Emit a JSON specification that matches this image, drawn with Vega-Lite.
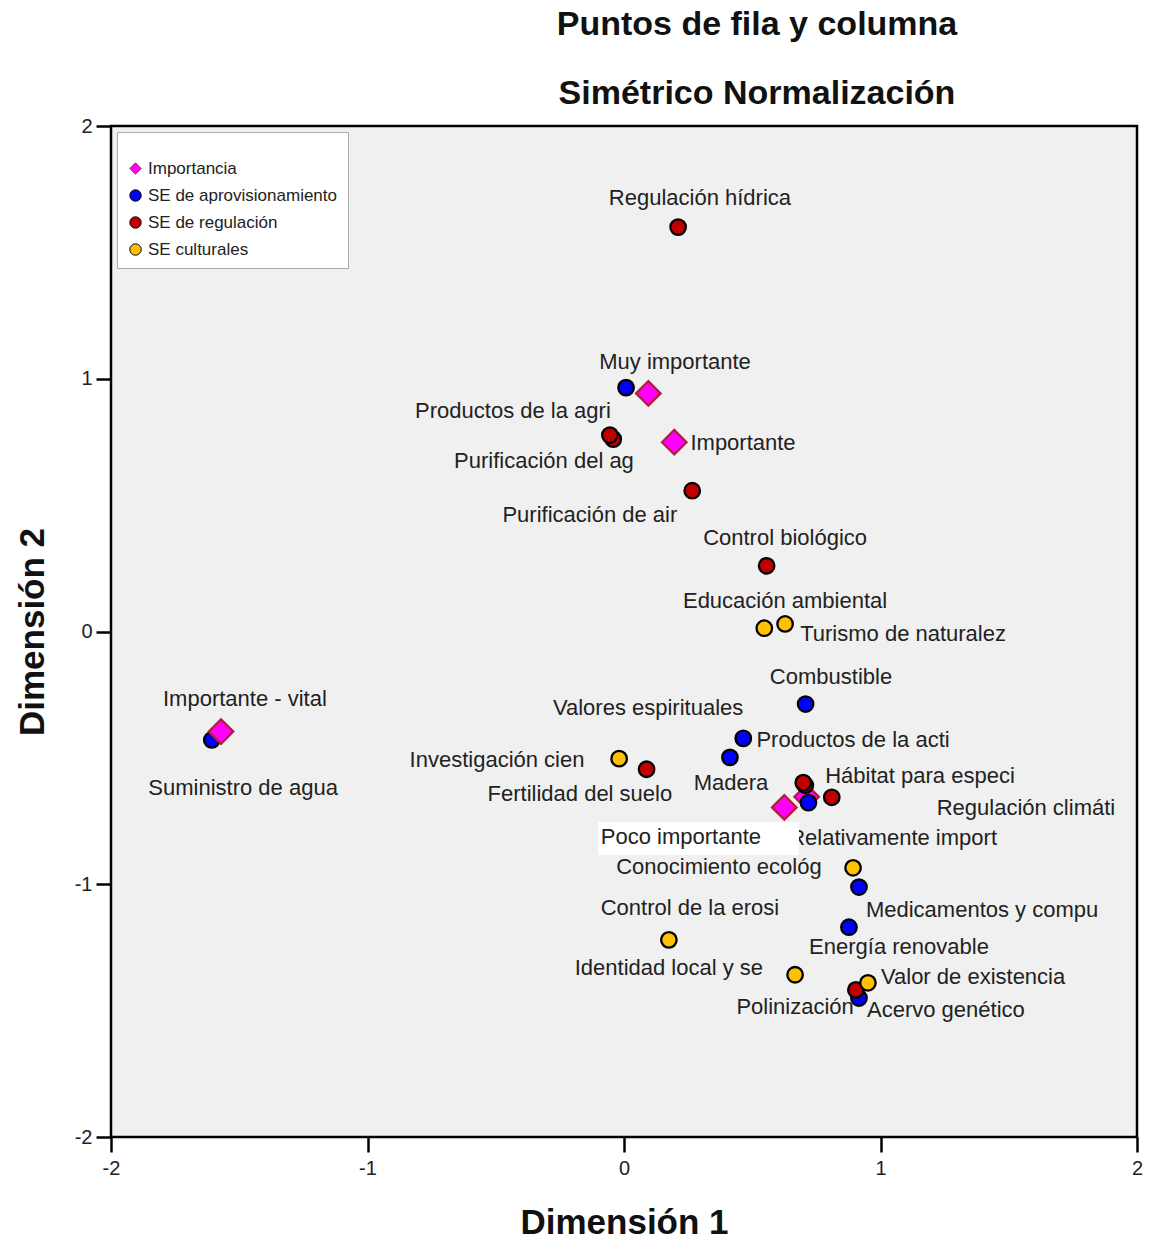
{
  "$schema": "https://vega.github.io/schema/vega-lite/v6.json",
  "autosize": "none",
  "width": 1026,
  "height": 1011,
  "padding": {"left": 111, "top": 126, "right": 12, "bottom": 103},
  "background": "white",
  "config": {
    "font": "Liberation Sans",
    "view": {"fill": "#f0f0f0", "stroke": "black", "strokeWidth": 2.5}
  },
  "title": {
    "text": ["Puntos de fila y columna", "Simétrico Normalización"],
    "font": "Liberation Sans",
    "fontSize": 34,
    "fontWeight": "bold",
    "color": "#111111",
    "lineHeight": 69,
    "anchor": "middle",
    "frame": "group",
    "dx": 133,
    "offset": 5
  },
  "datasets": {
    "points": [
      {"group": "SE de aprovisionamiento", "x": -1.607, "y": -0.429},
      {"group": "Importancia", "x": -1.571, "y": -0.396},
      {"group": "Importancia", "x": 0.095, "y": 0.942},
      {"group": "Importancia", "x": 0.196, "y": 0.749},
      {"group": "Importancia", "x": 0.625, "y": -0.696},
      {"group": "Importancia", "x": 0.712, "y": -0.654},
      {"group": "SE de aprovisionamiento", "x": 0.008, "y": 0.965},
      {"group": "SE de aprovisionamiento", "x": 0.708, "y": -0.287},
      {"group": "SE de aprovisionamiento", "x": 0.465, "y": -0.423},
      {"group": "SE de aprovisionamiento", "x": 0.413, "y": -0.498},
      {"group": "SE de aprovisionamiento", "x": 0.719, "y": -0.677},
      {"group": "SE de aprovisionamiento", "x": 0.916, "y": -1.011},
      {"group": "SE de aprovisionamiento", "x": 0.877, "y": -1.17},
      {"group": "SE de aprovisionamiento", "x": 0.916, "y": -1.45},
      {"group": "SE de regulación", "x": 0.211, "y": 1.6},
      {"group": "SE de regulación", "x": -0.042, "y": 0.761},
      {"group": "SE de regulación", "x": -0.055, "y": 0.777},
      {"group": "SE de regulación", "x": 0.266, "y": 0.557},
      {"group": "SE de regulación", "x": 0.556, "y": 0.26},
      {"group": "SE de regulación", "x": 0.088, "y": -0.545},
      {"group": "SE de regulación", "x": 0.707, "y": -0.608},
      {"group": "SE de regulación", "x": 0.699, "y": -0.598},
      {"group": "SE de regulación", "x": 0.81, "y": -0.656},
      {"group": "SE de regulación", "x": 0.904, "y": -1.418},
      {"group": "SE culturales", "x": 0.547, "y": 0.013},
      {"group": "SE culturales", "x": 0.628, "y": 0.03},
      {"group": "SE culturales", "x": -0.019, "y": -0.503},
      {"group": "SE culturales", "x": 0.893, "y": -0.935},
      {"group": "SE culturales", "x": 0.175, "y": -1.22},
      {"group": "SE culturales", "x": 0.667, "y": -1.358},
      {"group": "SE culturales", "x": 0.951, "y": -1.39}
    ],
    "labels": [
      {"text": "Regulación hídrica", "x": 0.296, "y": 1.715},
      {"text": "Muy importante", "x": 0.199, "y": 1.067},
      {"text": "Productos de la agri", "x": -0.433, "y": 0.872},
      {"text": "Importante", "x": 0.464, "y": 0.746},
      {"text": "Purificación del ag", "x": -0.312, "y": 0.673},
      {"text": "Purificación de air", "x": -0.133, "y": 0.461},
      {"text": "Control biológico", "x": 0.628, "y": 0.37},
      {"text": "Educación ambiental", "x": 0.628, "y": 0.12},
      {"text": "Turismo de naturalez", "x": 1.088, "y": -0.01},
      {"text": "Importante - vital", "x": -1.478, "y": -0.267},
      {"text": "Suministro de agua", "x": -1.485, "y": -0.619},
      {"text": "Combustible", "x": 0.807, "y": -0.18},
      {"text": "Valores espirituales", "x": 0.094, "y": -0.303},
      {"text": "Productos de la acti", "x": 0.893, "y": -0.428},
      {"text": "Investigación  cien", "x": -0.495, "y": -0.508},
      {"text": "Madera", "x": 0.417, "y": -0.599},
      {"text": "Hábitat para especi", "x": 1.154, "y": -0.572},
      {"text": "Fertilidad del suelo", "x": -0.172, "y": -0.643},
      {"text": "Regulación climáti", "x": 1.567, "y": -0.698},
      {"text": "Relativamente import", "x": 1.049, "y": -0.817},
      {"text": "Conocimiento ecológ", "x": 0.37, "y": -0.931},
      {"text": "Control de la erosi", "x": 0.257, "y": -1.094},
      {"text": "Medicamentos y compu", "x": 1.396, "y": -1.102},
      {"text": "Energía renovable", "x": 1.072, "y": -1.248},
      {"text": "Identidad  local y se", "x": 0.175, "y": -1.331},
      {"text": "Valor de existencia", "x": 1.361, "y": -1.367},
      {"text": "Polinización", "x": 0.667, "y": -1.486},
      {"text": "Acervo genético", "x": 1.255, "y": -1.498}
    ],
    "boxes": [
      {"text": "Poco importante", "x": 0.222, "y": -0.813, "x1": -0.101, "x2": 0.682, "y1": -0.755, "y2": -0.884}
    ]
  },
  "layer": [
    {
      "mark": {"type": "rule", "color": "black", "strokeWidth": 2.5},
      "encoding": {"x": {"datum": 0, "type": "quantitative"}}
    },
    {
      "mark": {"type": "rule", "color": "black", "strokeWidth": 2.5},
      "encoding": {"y": {"datum": 0, "type": "quantitative"}}
    },
    {
      "data": {"name": "labels"},
      "mark": {"type": "text", "fontSize": 22, "font": "Liberation Sans", "color": "#222222", "align": "center", "baseline": "middle"},
      "encoding": {
        "x": {"field": "x", "type": "quantitative"},
        "y": {"field": "y", "type": "quantitative"},
        "text": {"field": "text"}
      }
    },
    {
      "data": {"name": "boxes"},
      "mark": {"type": "rect", "fill": "white"},
      "encoding": {
        "x": {"field": "x1", "type": "quantitative"},
        "x2": {"field": "x2"},
        "y": {"field": "y1", "type": "quantitative"},
        "y2": {"field": "y2"}
      }
    },
    {
      "data": {"name": "boxes"},
      "mark": {"type": "text", "fontSize": 22, "font": "Liberation Sans", "color": "#222222", "align": "center", "baseline": "middle"},
      "encoding": {
        "x": {"field": "x", "type": "quantitative"},
        "y": {"field": "y", "type": "quantitative"},
        "text": {"field": "text"}
      }
    },
    {
      "data": {"name": "points"},
      "mark": {"type": "point", "filled": true, "opacity": 1, "strokeWidth": 2.3},
      "encoding": {
        "x": {
          "field": "x", "type": "quantitative",
          "scale": {"domain": [-2, 2], "nice": false, "zero": false},
          "axis": {
            "title": "Dimensión 1", "values": [-2, -1, 0, 1, 2], "grid": false,
            "labelExpr": "'' + datum.value", "labelFlush": false,
            "domain": false, "tickColor": "black", "tickWidth": 2.5, "tickSize": 15,
            "labelFontSize": 20, "labelColor": "#222222", "labelPadding": 6, "labelFont": "Liberation Sans",
            "titleFontSize": 35, "titleFontWeight": "bold", "titleColor": "#111111", "titlePadding": 27, "titleFont": "Liberation Sans"
          }
        },
        "y": {
          "field": "y", "type": "quantitative",
          "scale": {"domain": [-2, 2], "nice": false, "zero": false},
          "axis": {
            "title": "Dimensión 2", "values": [-2, -1, 0, 1, 2], "grid": false,
            "labelExpr": "'' + datum.value", "labelFlush": false,
            "domain": false, "tickColor": "black", "tickWidth": 2.5, "tickSize": 15,
            "labelFontSize": 20, "labelColor": "#222222", "labelPadding": 4, "labelFont": "Liberation Sans",
            "titleFontSize": 35, "titleFontWeight": "bold", "titleColor": "#111111", "titlePadding": 24, "titleFont": "Liberation Sans"
          }
        },
        "fill": {
          "field": "group", "type": "nominal",
          "scale": {
            "domain": ["Importancia", "SE de aprovisionamiento", "SE de regulación", "SE culturales"],
            "range": ["#ff00ff", "#0000ff", "#c00000", "#ffc000"]
          },
          "legend": {
            "title": " ", "titleFontSize": 14, "titlePadding": 4, "orient": "top-left", "offset": 6, "padding": 10,
            "fillColor": "white", "strokeColor": "#aaaaaa",
            "labelFontSize": 17, "labelFont": "Liberation Sans", "labelColor": "#222222", "labelLimit": 400,
            "symbolSize": 130, "symbolStrokeWidth": 1, "rowPadding": 9
          }
        },
        "shape": {
          "field": "group", "type": "nominal",
          "scale": {
            "domain": ["Importancia", "SE de aprovisionamiento", "SE de regulación", "SE culturales"],
            "range": ["diamond", "circle", "circle", "circle"]
          }
        },
        "stroke": {
          "field": "group", "type": "nominal",
          "scale": {
            "domain": ["Importancia", "SE de aprovisionamiento", "SE de regulación", "SE culturales"],
            "range": ["#b0203c", "black", "black", "black"]
          }
        },
        "size": {
          "condition": {"test": "datum.group === 'Importancia'", "value": 600},
          "value": 240
        }
      }
    }
  ]
}
